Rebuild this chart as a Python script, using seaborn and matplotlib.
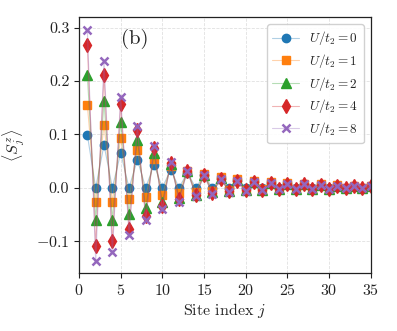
import pandas as pd
import matplotlib
matplotlib.use('Agg')
import matplotlib.pyplot as plt
import seaborn as sns

# ==========================================
# DATOS
# ==========================================
sites = list(range(1, 36))
labels = [r'$U/t_2 = 0$', r'$U/t_2 = 1$', r'$U/t_2 = 2$', r'$U/t_2 = 4$', r'$U/t_2 = 8$']

sz_u0 = [0.099, 0.0, 0.080, 0.0, 0.065, 0.0, 0.052, 0.0, 0.043, 0.0, 0.034, 0.0,
         0.028, 0.0, 0.023, 0.0, 0.019, 0.0, 0.015, 0.0, 0.012, 0.0, 0.010, 0.0,
         0.008, 0.0, 0.007, 0.0, 0.006, 0.0, 0.005, 0.0, 0.004, 0.0, 0.003]
sz_u1 = [0.155, -0.026, 0.118, -0.026, 0.093, -0.021, 0.071, -0.017, 0.053, -0.013,
         0.040, -0.010, 0.032, -0.008, 0.025, -0.006, 0.020, -0.005, 0.016, -0.004,
         0.013, -0.003, 0.010, -0.003, 0.008, -0.002, 0.007, -0.002, 0.006, -0.002,
         0.005, -0.001, 0.004, -0.001, 0.003]
sz_u2 = [0.211, -0.061, 0.162, -0.060, 0.123, -0.049, 0.090, -0.038, 0.065, -0.027,
         0.044, -0.019, 0.032, -0.013, 0.024, -0.009, 0.018, -0.007, 0.014, -0.005,
         0.011, -0.004, 0.009, -0.003, 0.007, -0.003, 0.006, -0.002, 0.005, -0.002,
         0.004, -0.001, 0.003, -0.001, 0.003]
sz_u4 = [0.268, -0.110, 0.212, -0.100, 0.157, -0.077, 0.108, -0.054, 0.075, -0.034,
         0.047, -0.021, 0.032, -0.014, 0.023, -0.010, 0.017, -0.007, 0.013, -0.005,
         0.010, -0.004, 0.008, -0.003, 0.007, -0.003, 0.006, -0.002, 0.005, -0.002,
         0.004, -0.001, 0.003, -0.001, 0.003]
sz_u8 = [0.295, -0.138, 0.238, -0.121, 0.170, -0.088, 0.115, -0.061, 0.078, -0.040,
         0.049, -0.026, 0.032, -0.016, 0.023, -0.011, 0.017, -0.008, 0.013, -0.006,
         0.010, -0.004, 0.008, -0.003, 0.007, -0.003, 0.006, -0.002, 0.005, -0.002,
         0.004, -0.001, 0.003, -0.001, 0.003]

series = [sz_u0, sz_u1, sz_u2, sz_u4, sz_u8]
markers = ['o', 's', '^', 'd', 'x']
msizes = [6, 6, 6.5, 7, 6]

# ==========================================
# ESTILO
# ==========================================
sns.set_style("ticks")
plt.rcParams['font.family'] = 'serif'
plt.rcParams['font.serif'] = ['cmr10']
plt.rcParams['mathtext.fontset'] = 'cm'
plt.rcParams['axes.formatter.use_mathtext'] = True
plt.rcParams['axes.unicode_minus'] = True

colores = sns.color_palette("tab10", 5)

fig = plt.figure(figsize=(3.97, 3.31), dpi=100)
ax = fig.add_axes([0.199, 0.175, 0.735, 0.774])

for vals, lab, mk, ms, c in zip(series, labels, markers, msizes, colores):
    df = pd.DataFrame({'site': sites, 'sz': vals})
    sns.lineplot(data=df, x='site', y='sz', ax=ax, label=lab,
                 color=(c[0], c[1], c[2], 0.35), linewidth=0.8,
                 marker=mk, markersize=ms, markerfacecolor=c,
                 markeredgecolor=c, markeredgewidth=1.0 if mk != 'x' else 1.8)

ax.set_xlim(0, 35)
ax.set_ylim(-0.16, 0.32)
ax.set_xticks(range(0, 36, 5))
ax.set_yticks([-0.1, 0.0, 0.1, 0.2, 0.3])
ax.set_yticklabels(['$-0.1$', '0.0', '0.1', '0.2', '0.3'])
ax.grid(True, color='#e0e0e0', linestyle='--', linewidth=0.6)
ax.tick_params(direction='out', length=3.5, width=0.8, labelsize=11.5, colors='#222222')
for s in ax.spines.values():
    s.set_color('#222222')
    s.set_linewidth(0.9)

ax.set_xlabel(r'Site index $j$', fontsize=11.5, labelpad=2)
ax.set_ylabel(r'$\langle S^z_j \rangle$', fontsize=11.5, labelpad=6)
ax.text(0.19, 0.915, '(b)', transform=ax.transAxes, fontsize=15, ha='center', va='center')

ax.legend(loc='upper right', fontsize=9.5, frameon=True, framealpha=0.9,
          edgecolor='#cccccc', handlelength=2.0, borderpad=0.4, labelspacing=0.35,
          handletextpad=0.8, borderaxespad=0.55)

fig.savefig('out.png', dpi=100)
